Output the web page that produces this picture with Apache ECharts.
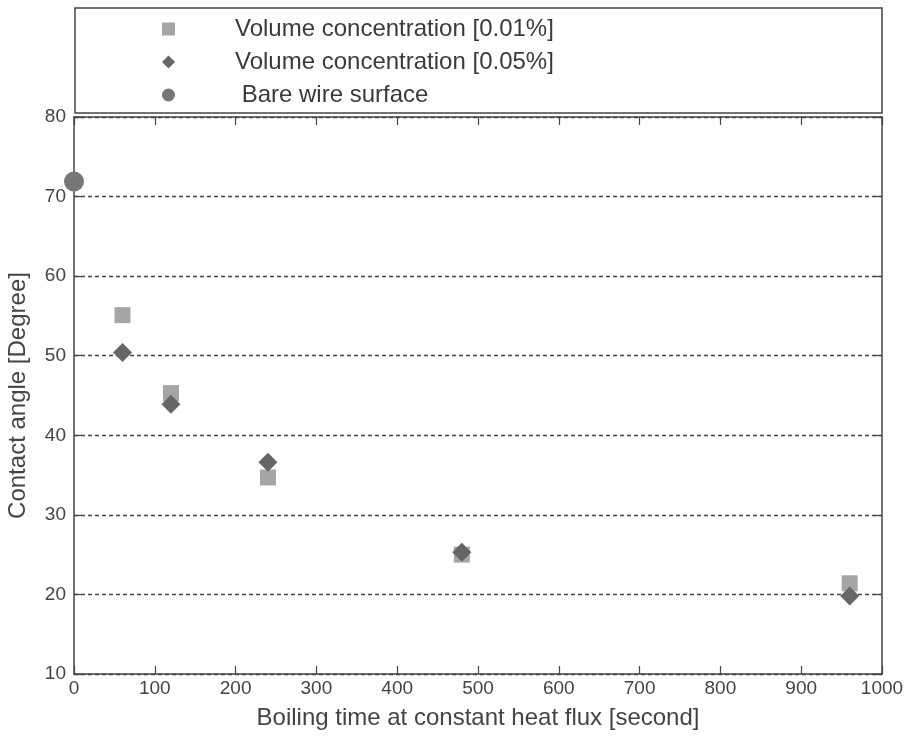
<!DOCTYPE html>
<html>
<head>
<meta charset="utf-8">
<script src="https://cdn.jsdelivr.net/npm/echarts@6/dist/echarts.min.js"></script>
<style>
  html, body { margin: 0; padding: 0; background: #fff; }
  #chart { width: 909px; height: 738px; }
</style>
</head>
<body>
<div id="chart"></div>
<script>
// boiling time [s] and contact angle [deg]
const timeLow = [60, 120, 240, 480, 960]
const angleLow = [55.1, 45.3, 34.7, 25.0, 21.4]   // 0.01 %
const timeHigh = [60, 120, 240, 480, 960]
const angleHigh = [50.4, 43.9, 36.6, 25.3, 19.8]  // 0.05 %
const timeBare = [0]
const angleBare = [71.9]

const names = ['Volume concentration [0.01%]', 'Volume concentration [0.05%]', ' Bare wire surface']

const pairs = (xs, ys) => xs.map((x, i) => [x, ys[i]])

const axisColor = '#444'
const font = 'Liberation Sans, Arial, sans-serif'

const chart = echarts.init(document.getElementById('chart'), null, { renderer: 'canvas' })

const baseX = {
  type: 'value',
  min: 0,
  max: 1000,
  interval: 100,
  axisLine: { show: true, onZero: false, lineStyle: { color: axisColor, width: 1.5 } },
  axisTick: { show: true, inside: true, length: 8, lineStyle: { color: axisColor, width: 1.2 } },
  splitLine: { show: false }
}
const baseY = {
  type: 'value',
  min: 10,
  max: 80,
  interval: 10,
  axisLine: { show: true, onZero: false, lineStyle: { color: axisColor, width: 1.5 } },
  axisTick: { show: true, inside: true, length: 8, lineStyle: { color: axisColor, width: 1.2 } }
}

const option = {
  backgroundColor: '#fff',
  animation: false,
  textStyle: { fontFamily: font },
  grid: { left: 74, right: 27, top: 117, bottom: 64, outerBoundsMode: 'none', containLabel: false },
  graphic: [
    {
      type: 'rect',
      shape: { x: 75, y: 8, width: 807, height: 105 },
      style: { fill: '#fff', stroke: axisColor, lineWidth: 1.5 },
      z: -1
    }
  ],
  legend: {
    orient: 'vertical',
    left: 157,
    top: 12,
    itemWidth: 13,
    itemHeight: 13,
    itemGap: 9,
    data: [
      { name: names[0], icon: 'rect' },
      { name: names[1], icon: 'diamond' },
      { name: names[2], icon: 'circle' }
    ],
    textStyle: { fontSize: 24, color: '#3a3a3a', fontFamily: font, padding: [0, 0, 0, 55] }
  },
  xAxis: [
    Object.assign({}, baseX, {
      position: 'bottom',
      name: 'Boiling time at constant heat flux [second]',
      nameLocation: 'middle',
      nameGap: 32,
      nameTextStyle: { fontSize: 24, color: '#444', fontFamily: font },
      axisLabel: { fontSize: 19, color: '#444', margin: 5, fontFamily: font, formatter: v => String(v) }
    }),
    Object.assign({}, baseX, { position: 'top', axisLabel: { show: false } })
  ],
  yAxis: [
    Object.assign({}, baseY, {
      position: 'left',
      name: 'Contact angle [Degree]',
      nameLocation: 'middle',
      nameGap: 44,
      nameTextStyle: { fontSize: 24, color: '#444', fontFamily: font },
      axisLabel: { fontSize: 19, color: '#444', margin: 8, fontFamily: font },
      splitLine: { show: true, lineStyle: { color: '#444', type: [4, 3], width: 1.3 } }
    }),
    Object.assign({}, baseY, { position: 'right', axisLabel: { show: false }, splitLine: { show: false } })
  ],
  series: [
    {
      name: names[0],
      type: 'scatter',
      symbol: 'rect',
      symbolSize: 16,
      itemStyle: { color: '#a5a5a5', opacity: 1 },
      data: pairs(timeLow, angleLow),
      z: 2
    },
    {
      name: names[1],
      type: 'scatter',
      symbol: 'diamond',
      symbolSize: 19,
      itemStyle: { color: '#666666', opacity: 1 },
      data: pairs(timeHigh, angleHigh),
      z: 3
    },
    {
      name: names[2],
      type: 'scatter',
      symbol: 'circle',
      symbolSize: 20,
      itemStyle: { color: '#777777', opacity: 1 },
      data: pairs(timeBare, angleBare),
      z: 4
    }
  ]
}

chart.setOption(option)
window.addEventListener('resize', () => chart.resize())
</script>
</body>
</html>
